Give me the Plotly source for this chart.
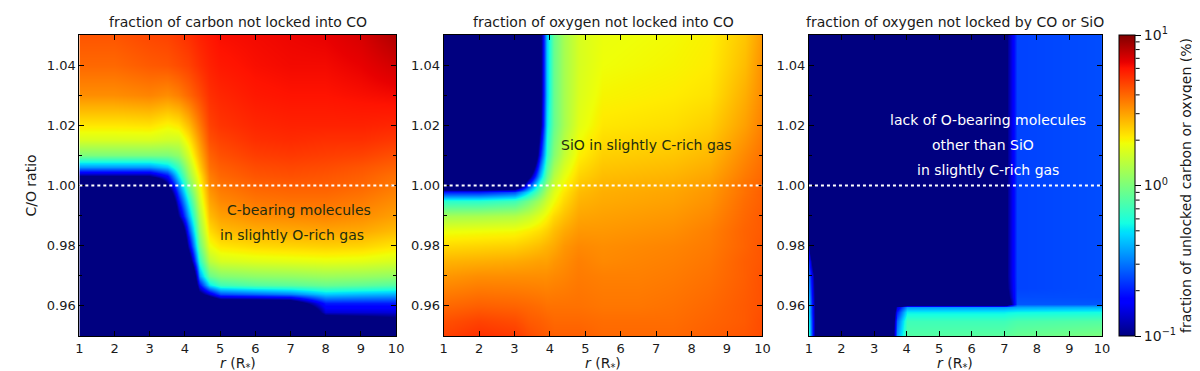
import numpy as np
import plotly.graph_objects as go

# ---------------- data (log10 of fraction in %) ----------------
# Panel 1: fraction of carbon not locked into CO
r_c = [1, 2, 3, 3.5, 3.8, 4.1, 4.4, 4.7, 5, 6, 7, 8, 9, 10]
co_c = [0.95, 0.955, 0.958, 0.961, 0.964, 0.967, 0.97, 0.975, 0.98, 0.985, 0.99,
        0.995, 1.0, 1.003, 1.006, 1.01, 1.015, 1.02, 1.03, 1.04, 1.05]
carbon_cols = [
    [-2, -2, -2, -2, -2, -2, -2, -2, -2, -2, -2, -2, -2, -1.0, -0.45, 0.0, 0.22, 0.33, 0.52, 0.6, 0.64],
    [-2, -2, -2, -2, -2, -2, -2, -2, -2, -2, -2, -2, -2, -1.0, -0.45, 0.0, 0.22, 0.33, 0.52, 0.6, 0.64],
    [-2, -2, -2, -2, -2, -2, -2, -2, -2, -2, -2, -2, -2, -1.0, -0.45, 0.0, 0.22, 0.34, 0.54, 0.63, 0.67],
    [-2, -2, -2, -2, -2, -2, -2, -2, -2, -2, -2, -1.6, -1.05, -0.75, -0.35, 0.0, 0.2, 0.3, 0.52, 0.64, 0.68],
    [-2, -2, -2, -2, -2, -2, -2, -2, -2, -1.6, -1.0, -0.75, -0.5, -0.3, -0.15, 0.05, 0.2, 0.33, 0.55, 0.66, 0.7],
    [-2, -2, -2, -2, -2, -2, -2, -1.3, -0.9, -0.65, -0.42, -0.25, -0.05, 0.05, 0.12, 0.22, 0.32, 0.42, 0.6, 0.68, 0.72],
    [-2, -2, -2, -2, -1.1, -0.75, -0.45, -0.2, -0.05, 0.05, 0.12, 0.2, 0.27, 0.32, 0.38, 0.44, 0.5, 0.56, 0.66, 0.72, 0.75],
    [-2, -2, -2, -1.5, -0.85, -0.3, -0.05, 0.15, 0.27, 0.35, 0.42, 0.47, 0.52, 0.55, 0.58, 0.61, 0.65, 0.68, 0.72, 0.75, 0.77],
    [-2, -2, -2, -1.3, -0.6, -0.15, 0.02, 0.22, 0.33, 0.42, 0.48, 0.53, 0.57, 0.6, 0.62, 0.65, 0.68, 0.71, 0.74, 0.77, 0.79],
    [-2, -2, -2, -1.3, -0.55, -0.1, 0.05, 0.24, 0.36, 0.45, 0.52, 0.57, 0.61, 0.64, 0.66, 0.69, 0.72, 0.74, 0.77, 0.79, 0.8],
    [-2, -2, -1.9, -1.25, -0.5, -0.08, 0.06, 0.25, 0.37, 0.46, 0.53, 0.58, 0.62, 0.65, 0.67, 0.7, 0.73, 0.75, 0.78, 0.8, 0.81],
    [-2, -1.3, -0.85, -0.7, -0.35, -0.05, 0.08, 0.26, 0.38, 0.47, 0.54, 0.58, 0.62, 0.64, 0.66, 0.69, 0.72, 0.75, 0.78, 0.8, 0.82],
    [-2, -1.2, -0.85, -0.7, -0.38, -0.07, 0.07, 0.25, 0.37, 0.46, 0.52, 0.56, 0.6, 0.62, 0.64, 0.68, 0.72, 0.75, 0.79, 0.82, 0.85],
    [-2, -1.1, -0.85, -0.7, -0.4, -0.1, 0.05, 0.22, 0.33, 0.42, 0.48, 0.52, 0.56, 0.58, 0.61, 0.65, 0.7, 0.74, 0.8, 0.86, 0.92],
]

# Panel 2: fraction of oxygen not locked into CO
r_o = [1, 2, 3, 3.4, 3.7, 3.9, 4.1, 4.4, 4.8, 5.5, 6.5, 7.5, 8.5, 9.5, 10]
co_o = [0.95, 0.955, 0.96, 0.97, 0.975, 0.98, 0.985, 0.99, 0.995, 0.998, 1.0,
        1.003, 1.01, 1.02, 1.03, 1.04, 1.05]
oxygen_cols = [
    [0.68, 0.65, 0.6, 0.5, 0.44, 0.36, 0.27, 0.1, -0.2, -0.7, -1.5, -2, -2, -2, -2, -2, -2],
    [0.72, 0.68, 0.62, 0.52, 0.45, 0.37, 0.28, 0.11, -0.2, -0.7, -1.5, -2, -2, -2, -2, -2, -2],
    [0.7, 0.66, 0.61, 0.52, 0.46, 0.38, 0.29, 0.13, -0.15, -0.6, -1.4, -2, -2, -2, -2, -2, -2],
    [0.66, 0.63, 0.6, 0.52, 0.47, 0.4, 0.32, 0.18, -0.02, -0.3, -0.6, -1.1, -2, -2, -2, -2, -2],
    [0.64, 0.62, 0.59, 0.52, 0.48, 0.42, 0.35, 0.25, 0.1, -0.05, -0.15, -0.4, -0.75, -1.1, -1.15, -1.15, -1.15],
    [0.63, 0.61, 0.58, 0.52, 0.48, 0.44, 0.38, 0.3, 0.2, 0.12, 0.05, -0.05, -0.2, -0.3, -0.35, -0.35, -0.35],
    [0.62, 0.6, 0.58, 0.53, 0.5, 0.46, 0.42, 0.36, 0.28, 0.24, 0.2, 0.14, 0.02, -0.05, -0.05, -0.05, -0.05],
    [0.62, 0.6, 0.58, 0.54, 0.52, 0.5, 0.46, 0.41, 0.36, 0.33, 0.3, 0.26, 0.17, 0.1, 0.1, 0.1, 0.1],
    [0.62, 0.6, 0.58, 0.56, 0.55, 0.53, 0.5, 0.47, 0.44, 0.42, 0.4, 0.37, 0.31, 0.25, 0.23, 0.22, 0.22],
    [0.6, 0.59, 0.57, 0.55, 0.53, 0.52, 0.5, 0.48, 0.46, 0.45, 0.44, 0.42, 0.38, 0.33, 0.3, 0.28, 0.27],
    [0.6, 0.59, 0.57, 0.55, 0.54, 0.53, 0.51, 0.49, 0.47, 0.46, 0.45, 0.43, 0.39, 0.34, 0.31, 0.29, 0.28],
    [0.6, 0.59, 0.58, 0.56, 0.55, 0.54, 0.52, 0.5, 0.48, 0.47, 0.46, 0.44, 0.4, 0.35, 0.32, 0.3, 0.29],
    [0.62, 0.61, 0.6, 0.58, 0.57, 0.56, 0.55, 0.53, 0.51, 0.5, 0.49, 0.47, 0.43, 0.38, 0.34, 0.32, 0.31],
    [0.64, 0.63, 0.63, 0.62, 0.62, 0.61, 0.61, 0.6, 0.59, 0.58, 0.58, 0.56, 0.53, 0.48, 0.45, 0.42, 0.4],
    [0.66, 0.66, 0.65, 0.65, 0.64, 0.64, 0.63, 0.63, 0.62, 0.62, 0.61, 0.6, 0.58, 0.55, 0.53, 0.52, 0.5],
]

# Panel 3: fraction of oxygen not locked by CO or SiO
r_s = [1, 1.15, 1.3, 3.4, 3.7, 4.0, 7.0, 7.1, 7.4, 10]
co_s = [0.95, 0.955, 0.958, 0.9595, 0.9605, 0.963, 0.966, 0.97, 0.975, 0.98, 0.985, 1.05]
sio_cols = [
    [-0.25, -0.3, -0.35, -0.35, -0.38, -0.42, -0.48, -0.55, -0.7, -0.95, -2, -2],
    [-0.9, -0.9, -0.92, -0.92, -0.93, -0.95, -0.97, -1.0, -1.3, -2, -2, -2],
    [-2, -2, -2, -2, -2, -2, -2, -2, -2, -2, -2, -2],
    [-2, -2, -2, -2, -2, -2, -2, -2, -2, -2, -2, -2],
    [-0.45, -0.55, -0.7, -0.85, -1.8, -2, -2, -2, -2, -2, -2, -2],
    [-0.1, -0.15, -0.28, -0.45, -1.5, -2, -2, -2, -2, -2, -2, -2],
    [-0.08, -0.15, -0.28, -0.45, -1.5, -1.5, -1.5, -1.5, -1.5, -1.5, -1.5, -1.5],
    [-0.07, -0.14, -0.27, -0.44, -1.2, -1.05, -0.98, -0.95, -0.95, -0.95, -0.95, -0.95],
    [-0.05, -0.12, -0.26, -0.42, -0.58, -0.6, -0.62, -0.62, -0.62, -0.62, -0.62, -0.62],
    [0.0, -0.1, -0.25, -0.4, -0.58, -0.6, -0.6, -0.6, -0.6, -0.6, -0.6, -0.6],
]

panel_titles = ["fraction of carbon not locked into CO",
                "fraction of oxygen not locked into CO",
                "fraction of oxygen not locked by CO or SiO"]
co_boundary = 1.0
y_ticks = [0.96, 0.98, 1.00, 1.02, 1.04]
y_ticktext = ["0.96", "0.98", "1.00", "1.02", "1.04"]
y_minor = [0.95, 0.97, 0.99, 1.01, 1.03, 1.05]
x_ticks = list(range(1, 11))
cbar_major = [0.1, 1, 10]
cbar_major_text = ["10<sup>\u22121</sup>", "10<sup>0</sup>", "10<sup>1</sup>"]
cbar_minor = [0.2, 0.3, 0.4, 0.5, 0.6, 0.7, 0.8, 0.9, 2, 3, 4, 5, 6, 7, 8, 9]

# ---------------- figure ----------------
jet = [
    [0.0, "rgb(0,0,128)"], [0.11, "rgb(0,0,255)"], [0.125, "rgb(0,0,255)"],
    [0.34, "rgb(0,219,255)"], [0.35, "rgb(0,229,247)"], [0.375, "rgb(21,255,226)"],
    [0.64, "rgb(239,255,8)"], [0.65, "rgb(247,245,0)"], [0.66, "rgb(255,236,0)"],
    [0.89, "rgb(255,19,0)"], [0.91, "rgb(232,0,0)"], [1.0, "rgb(128,0,0)"],
]

FONT = "DejaVu Sans"
TXT = "#1a1a1a"

fig = go.Figure()
panels = [(r_c, co_c, carbon_cols), (r_o, co_o, oxygen_cols), (r_s, co_s, sio_cols)]
for i, (xr, yc, cols) in enumerate(panels):
    z = np.array(cols, dtype=float).T
    sfx = "" if i == 0 else str(i + 1)
    fig.add_trace(go.Heatmap(x=xr, y=yc, z=z, zsmooth="best", coloraxis="coloraxis",
                             xaxis="x" + sfx, yaxis="y" + sfx, hoverinfo="skip"))

xdomains = [[68 / 1200, 388 / 1200], [436 / 1200, 758 / 1200], [805 / 1200, 1101 / 1200]]
ydom = [1 - 328 / 371, 1 - 27 / 371]

axis_common = dict(showline=True, linecolor="black", linewidth=1, mirror="allticks",
                   ticks="inside", tickcolor="black", ticklen=5, showgrid=False, zeroline=False,
                   tickfont=dict(family=FONT, size=13, color=TXT))

cb_x0 = 1118 / 1200
cb_thick = 16
layout = dict(
    width=1200, height=371, margin=dict(l=0, r=0, t=0, b=0),
    paper_bgcolor="white", plot_bgcolor="white", showlegend=False,
    font=dict(family=FONT, color=TXT),
    coloraxis=dict(
        colorscale=jet, cmin=-1, cmax=1,
        colorbar=dict(
            x=cb_x0, xanchor="left", xpad=0, ypad=0,
            y=(ydom[0] + ydom[1]) / 2, yanchor="middle", len=ydom[1] - ydom[0], lenmode="fraction",
            thickness=cb_thick, outlinecolor="black", outlinewidth=1,
            tickmode="array",
            tickvals=[float(np.log10(v)) for v in cbar_major],
            ticktext=cbar_major_text,
            ticks="outside", ticklen=6, tickcolor="black",
            tickfont=dict(family=FONT, size=14, color=TXT),
            title=dict(text="fraction of unlocked carbon or oxygen (%)", side="right",
                       font=dict(family=FONT, size=14, color=TXT)),
        ),
    ),
)

for i in range(3):
    sfx = "" if i == 0 else str(i + 1)
    layout["xaxis" + sfx] = dict(axis_common, domain=xdomains[i], range=[1, 10],
                                 anchor="y" + sfx, tickmode="array", tickvals=x_ticks)
    layout["yaxis" + sfx] = dict(axis_common, domain=ydom, range=[0.95, 1.05],
                                 anchor="x" + sfx, tickmode="array", tickvals=y_ticks,
                                 ticktext=y_ticktext,
                                 minor=dict(ticks="inside", tickvals=y_minor,
                                            ticklen=3, tickcolor="black"))
layout["yaxis"]["title"] = dict(text="C/O ratio", standoff=6, font=dict(family=FONT, size=14, color=TXT))

fig.update_layout(**layout)

# dotted line at C/O = 1
for i in range(3):
    sfx = "" if i == 0 else str(i + 1)
    fig.add_shape(type="line", xref="x" + sfx, yref="y" + sfx, x0=1, x1=10,
                  y0=co_boundary, y1=co_boundary, line=dict(color="white", width=2, dash="dot"))

# minor ticks of the logarithmic colour bar
cb_right = cb_x0 + (cb_thick + 1) / 1200
for v in cbar_minor:
    yp = ydom[0] + (np.log10(v) + 1) / 2 * (ydom[1] - ydom[0])
    fig.add_shape(type="line", xref="paper", yref="paper", x0=cb_right, x1=cb_right + 4 / 1200,
                  y0=yp, y1=yp, line=dict(color="black", width=1))

# panel titles and x-axis titles
for i in range(3):
    xc = (xdomains[i][0] + xdomains[i][1]) / 2
    fig.add_annotation(text=panel_titles[i], xref="paper", yref="paper",
                       x=xc, y=1 - 14 / 371,
                       xanchor="center", yanchor="middle", showarrow=False,
                       font=dict(family=FONT, size=14, color=TXT))
    fig.add_annotation(text="<i>r</i> (R<sub>*</sub>)", xref="paper", yref="paper",
                       x=xc, y=1 - 356 / 371,
                       xanchor="center", yanchor="middle", showarrow=False,
                       font=dict(family=FONT, size=14, color=TXT))

dark = "rgb(35,45,15)"
notes = [
    ("x", "y", 7.24, 0.9919, "C-bearing molecules", dark),
    ("x", "y", 7.05, 0.9836, "in slightly O-rich gas", dark),
    ("x2", "y2", 6.73, 1.0135, "SiO in slightly C-rich gas", dark),
    ("x3", "y3", 6.5, 1.0218, "lack of O-bearing molecules", "white"),
    ("x3", "y3", 6.35, 1.0135, "other than SiO", "white"),
    ("x3", "y3", 6.5, 1.0051, "in slightly C-rich gas", "white"),
]
for xr, yr, xv, yv, t, c in notes:
    fig.add_annotation(text=t, xref=xr, yref=yr, x=xv, y=yv, showarrow=False,
                       xanchor="center", yanchor="middle",
                       font=dict(family=FONT, size=14, color=c))

fig.write_html("out.html")
